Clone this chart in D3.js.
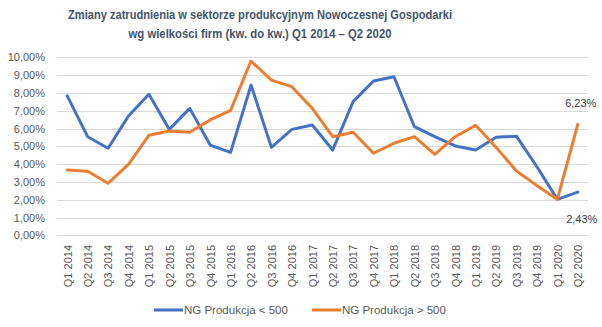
<!DOCTYPE html>
<html><head><meta charset="utf-8">
<script src="https://cdn.jsdelivr.net/npm/d3@7"></script>
<style>body{margin:0;background:#fff}svg{display:block}</style>
</head><body>
<svg id="c" width="602" height="327"></svg>
<script>
const categories = ["Q1 2014","Q2 2014","Q3 2014","Q4 2014","Q1 2015","Q2 2015","Q3 2015","Q4 2015","Q1 2016","Q2 2016","Q3 2016","Q4 2016","Q1 2017","Q2 2017","Q3 2017","Q4 2017","Q1 2018","Q2 2018","Q3 2018","Q4 2018","Q1 2019","Q2 2019","Q3 2019","Q4 2019","Q1 2020","Q2 2020"];
const small = [7.83,5.54,4.89,6.70,7.92,5.95,7.13,5.07,4.66,8.44,4.94,5.95,6.20,4.79,7.51,8.67,8.91,6.10,5.54,5.02,4.79,5.51,5.56,3.85,2.02,2.43];
const large = [3.67,3.60,2.92,3.99,5.62,5.86,5.79,6.48,7.02,9.79,8.72,8.35,7.13,5.54,5.79,4.61,5.17,5.54,4.55,5.54,6.18,4.94,3.61,2.79,2.02,6.23];
const yTicks = [0,1,2,3,4,5,6,7,8,9,10];
const seriesNames = ["NG Produkcja < 500","NG Produkcja > 500"];
const colors = ["#4472C4","#ED7D31"];
const titleLines = ["Zmiany zatrudnienia w sektorze produkcyjnym Nowoczesnej Gospodarki","wg wielkości firm (kw. do kw.) Q1 2014 – Q2 2020"];

const svg = d3.select("#c");
const font = "'Liberation Sans', Arial, sans-serif";
const pl = d3.formatLocale({decimal:",",thousands:" ",grouping:[3],currency:["","zł"]});
const fmt = v => pl.format(".2f")(v) + "%";

const x = d3.scalePoint().domain(categories).range([57,588]).padding(0.5);
const y = d3.scaleLinear().domain([0,10]).range([235.3,57.3]);

// title
svg.append("g").selectAll("text").data(titleLines).join("text")
  .attr("x",260).attr("y",(d,i)=>19+i*18.5)
  .attr("text-anchor","middle").attr("font-family",font).attr("font-weight","bold")
  .attr("font-size",13.5).attr("fill","#44546A")
  .attr("textLength",(d,i)=>i===0?384:263).attr("lengthAdjust","spacingAndGlyphs")
  .text(d=>d);

// grid
svg.append("g").selectAll("line").data(yTicks).join("line")
  .attr("x1",57).attr("x2",588).attr("y1",d=>Math.round(y(d))+0.5).attr("y2",d=>Math.round(y(d))+0.5)
  .attr("stroke","#D9D9D9").attr("stroke-width",1);

// y axis
const ya = svg.append("g").attr("transform","translate(52,0)")
  .call(d3.axisLeft(y).tickValues(yTicks).tickFormat(fmt).tickSize(0).tickPadding(7));
ya.select(".domain").remove();
ya.selectAll("text").attr("font-family",font).attr("font-size",11).attr("fill","#595959");

// x axis
const xa = svg.append("g").attr("transform","translate(0,240)")
  .call(d3.axisBottom(x).tickSize(0).tickPadding(0));
xa.select(".domain").remove();
xa.selectAll("text").attr("font-family",font).attr("font-size",11).attr("fill","#595959")
  .attr("text-anchor","end").attr("transform","rotate(-90)").attr("dy","0.35em").attr("x",-5).attr("y",0);

// lines
const line = d3.line().x((d,i)=>x(categories[i])).y(d=>y(d));
[small,large].forEach((s,k)=>{
  svg.append("path").datum(s).attr("d",line).attr("fill","none")
    .attr("stroke",colors[k]).attr("stroke-width",3).attr("stroke-linejoin","round").attr("stroke-linecap","round");
});

// data labels for last points
const last = categories.length-1;
svg.append("text").attr("x",x(categories[last])+3).attr("y",y(large[last])-17)
  .attr("text-anchor","middle").attr("font-family",font).attr("font-size",11).attr("fill","#404040").text(fmt(large[last]));
svg.append("text").attr("x",x(categories[last])+4).attr("y",y(small[last])+31)
  .attr("text-anchor","middle").attr("font-family",font).attr("font-size",11).attr("fill","#404040").text(fmt(small[last]));

// legend
const lg = [{x:154},{x:312}];
seriesNames.forEach((n,k)=>{
  const g = svg.append("g").attr("transform",`translate(${lg[k].x},310)`);
  g.append("line").attr("x1",0).attr("x2",29).attr("y1",0).attr("y2",0).attr("stroke",colors[k]).attr("stroke-width",3);
  g.append("text").attr("x",30).attr("y",0).attr("dy","0.35em").attr("font-family",font).attr("font-size",11.5)
    .attr("fill","#595959").text(n);
});
</script>
</body></html>
